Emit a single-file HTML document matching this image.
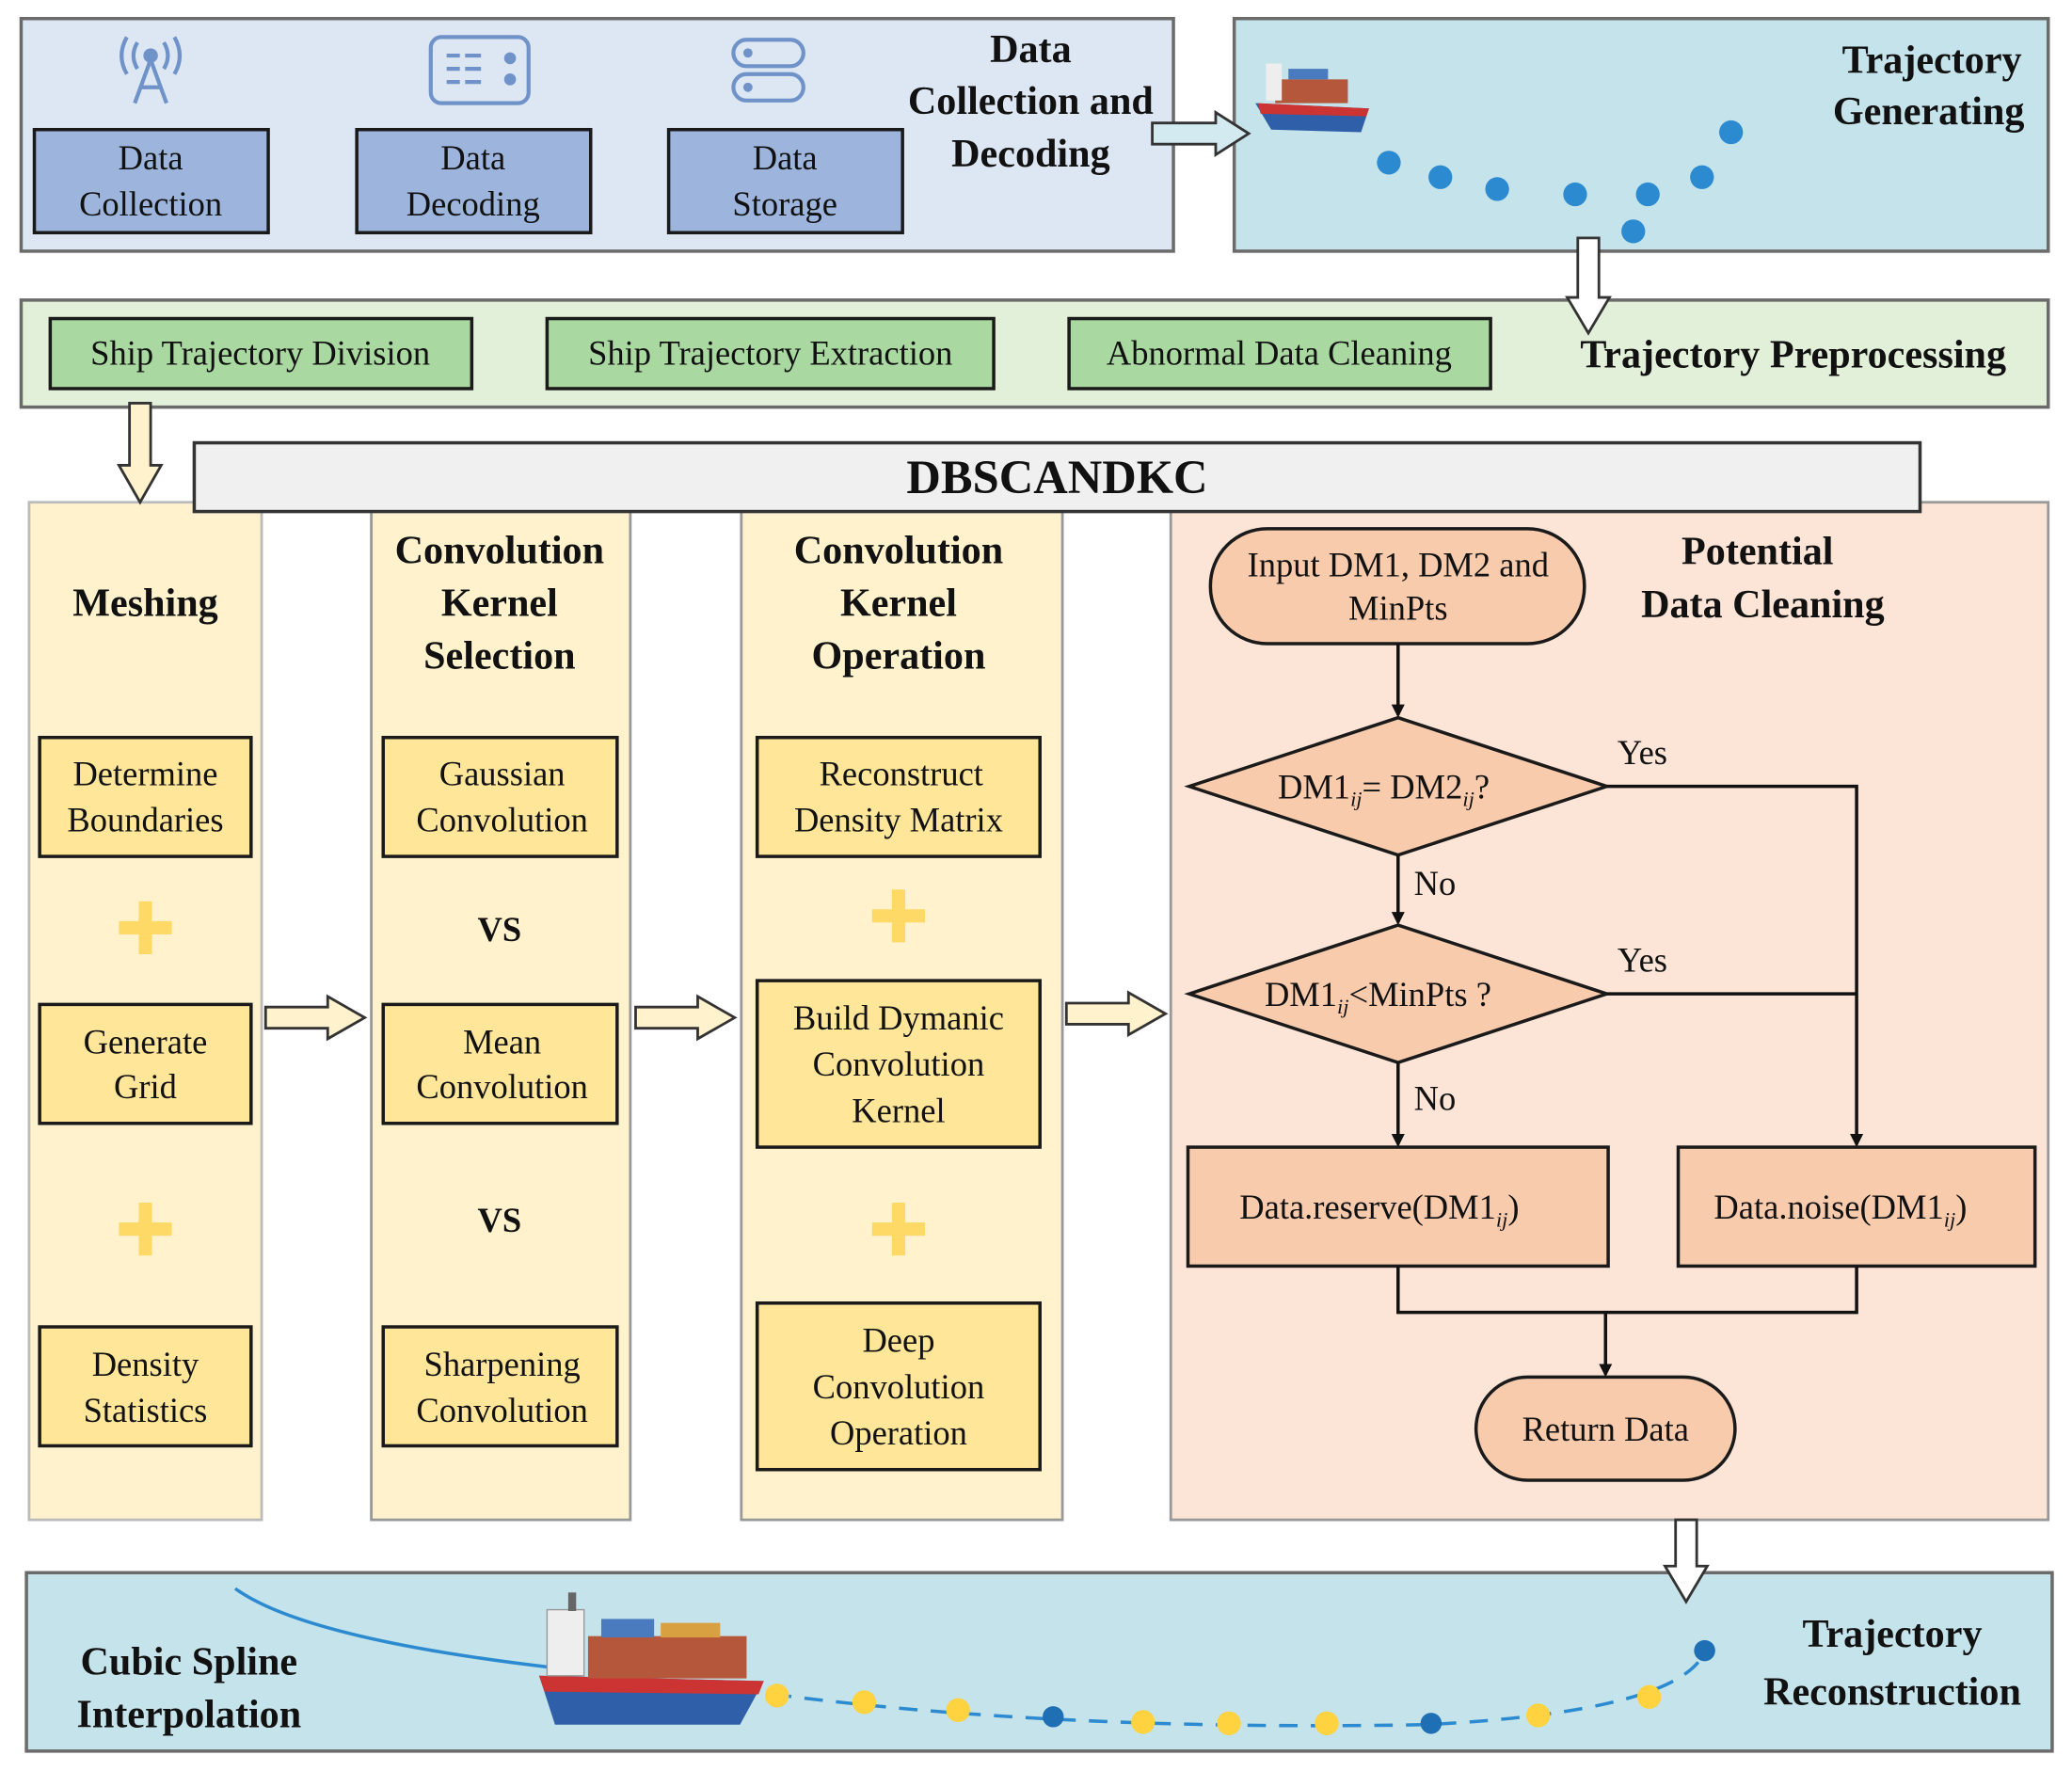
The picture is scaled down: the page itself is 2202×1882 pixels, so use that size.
<!DOCTYPE html>
<html><head><meta charset="utf-8"><style>html,body{margin:0;padding:0;background:#fff}svg{display:block}svg text{font-family:"Liberation Serif","DejaVu Serif",serif}</style></head>
<body>
<svg width="2202" height="1882" viewBox="0 0 1568 1340" xmlns="http://www.w3.org/2000/svg" style="font-family:'Liberation Serif','DejaVu Serif',serif">
<defs>
<marker id="ah" markerWidth="10" markerHeight="10" refX="8" refY="5" orient="auto" markerUnits="userSpaceOnUse"><path d="M0,0 L10,5 L0,10 z" fill="#111"/></marker>
</defs>
<rect width="1568" height="1340" fill="#fff"/>
<rect x="16" y="14" width="872" height="176" fill="#dde7f3" stroke="#6b6b6b" stroke-width="2.5"/>
<g fill="#9db5dc" stroke="#1a1a1a" stroke-width="2.5">
<rect x="26" y="98" width="177" height="78"/><rect x="270" y="98" width="177" height="78"/><rect x="506" y="98" width="177" height="78"/></g>
<g font-size="26" text-anchor="middle" fill="#111">
<text x="114" y="128">Data</text><text x="114" y="163">Collection</text>
<text x="358" y="128">Data</text><text x="358" y="163">Decoding</text>
<text x="594" y="128">Data</text><text x="594" y="163">Storage</text></g>
<g font-size="30" font-weight="bold" text-anchor="middle" fill="#111">
<text x="780" y="47">Data</text><text x="780" y="86">Collection and</text><text x="780" y="126">Decoding</text></g>
<g stroke="#6f93c8" stroke-width="3" fill="none">
<path d="M114,45 L102,78 M114,45 L126,78 M106,66 L122,66"/><circle cx="114" cy="42" r="4" fill="#6f93c8"/>
<path d="M104,32 Q98,42 104,52 M124,32 Q130,42 124,52 M96,28 Q88,42 96,56 M132,28 Q140,42 132,56"/>
<rect x="326" y="28" width="74" height="50" rx="8"/>
<path d="M338,42h10 M352,42h12 M338,52h10 M352,52h12 M338,62h10 M352,62h12"/>
<circle cx="386" cy="44" r="3" fill="#6f93c8"/><circle cx="386" cy="60" r="3" fill="#6f93c8"/>
<rect x="555" y="30" width="53" height="20" rx="10"/><rect x="555" y="56" width="53" height="20" rx="10"/>
<circle cx="566" cy="40" r="2" fill="#6f93c8"/><circle cx="566" cy="66" r="2" fill="#6f93c8"/>
</g>
<rect x="934" y="14" width="616" height="176" fill="#c5e3ea" stroke="#6b6b6b" stroke-width="2.5"/>
<path d="M872,93 L920,93 L920,85 L945,101 L920,117 L920,109 L872,109 z" fill="#d3eaf0" stroke="#333" stroke-width="2"/>
<g font-size="30" font-weight="bold" text-anchor="end" fill="#111"><text x="1530" y="55">Trajectory</text><text x="1532" y="94">Generating</text></g>
<g fill="#2b8ad0"><circle cx="1051" cy="123" r="9"/><circle cx="1090" cy="134" r="9"/><circle cx="1133" cy="143" r="9"/><circle cx="1192" cy="147" r="9"/><circle cx="1236" cy="175" r="9"/><circle cx="1247" cy="147" r="9"/><circle cx="1288" cy="134" r="9"/><circle cx="1310" cy="100" r="9"/></g>
<g><path d="M950,78 L1036,82 L1030,100 L962,98 z" fill="#2e5fa8"/><path d="M952,78 L1036,82 L1034,88 L954,86z" fill="#c33"/>
<rect x="965" y="60" width="55" height="18" fill="#b5573a"/><rect x="975" y="52" width="30" height="8" fill="#4a7bbf"/><rect x="958" y="48" width="12" height="28" fill="#eee"/></g>
<rect x="16" y="227" width="1534" height="81" fill="#e2f0d9" stroke="#6b6b6b" stroke-width="2.5"/>
<path d="M1194,180 L1210,180 L1210,225 L1218,225 L1202,252 L1186,225 L1194,225 z" fill="#fff" stroke="#333" stroke-width="2"/>
<g fill="#a9d8a0" stroke="#1a1a1a" stroke-width="2.5"><rect x="38" y="241" width="319" height="53"/><rect x="414" y="241" width="338" height="53"/><rect x="809" y="241" width="319" height="53"/></g>
<g font-size="26" text-anchor="middle" fill="#111"><text x="197" y="276">Ship Trajectory Division</text><text x="583" y="276">Ship Trajectory Extraction</text><text x="968" y="276">Abnormal Data Cleaning</text></g>
<text x="1357" y="278" font-size="30" font-weight="bold" text-anchor="middle" fill="#111">Trajectory Preprocessing</text>
<rect x="22" y="380" width="176" height="770" fill="#fff2cc" stroke="#bbb" stroke-width="2"/>
<rect x="281" y="387" width="196" height="763" fill="#fff2cc" stroke="#999" stroke-width="2"/>
<rect x="561" y="387" width="243" height="763" fill="#fff2cc" stroke="#999" stroke-width="2"/>
<rect x="886" y="380" width="664" height="770" fill="#fce4d6" stroke="#999" stroke-width="2"/>
<path d="M98,305 L114,305 L114,352 L122,352 L106,380 L90,352 L98,352 z" fill="#fff2cc" stroke="#333" stroke-width="2"/>
<rect x="147" y="335" width="1306" height="52" fill="#f0f0f0" stroke="#333" stroke-width="2.5"/>
<text x="800" y="373" font-size="36" font-weight="bold" text-anchor="middle" fill="#111">DBSCANDKC</text>
<g font-size="30" font-weight="bold" text-anchor="middle" fill="#111">
<text x="110" y="466">Meshing</text>
<text x="378" y="426">Convolution</text><text x="378" y="466">Kernel</text><text x="378" y="506">Selection</text>
<text x="680" y="426">Convolution</text><text x="680" y="466">Kernel</text><text x="680" y="506">Operation</text>
<text x="1330" y="427">Potential</text><text x="1334" y="467">Data Cleaning</text>
<text x="378" y="712" font-size="26">VS</text><text x="378" y="932" font-size="26">VS</text>
</g>
<g fill="#ffe699" stroke="#1a1a1a" stroke-width="2.5">
<rect x="30" y="558" width="160" height="90"/><rect x="30" y="760" width="160" height="90"/><rect x="30" y="1004" width="160" height="90"/>
<rect x="290" y="558" width="177" height="90"/><rect x="290" y="760" width="177" height="90"/><rect x="290" y="1004" width="177" height="90"/>
<rect x="573" y="558" width="214" height="90"/><rect x="573" y="742" width="214" height="126"/><rect x="573" y="986" width="214" height="126"/></g>
<g font-size="26" text-anchor="middle" fill="#111">
<text x="110" y="594">Determine</text><text x="110" y="629">Boundaries</text>
<text x="110" y="797">Generate</text><text x="110" y="831">Grid</text>
<text x="110" y="1041">Density</text><text x="110" y="1076">Statistics</text>
<text x="380" y="594">Gaussian</text><text x="380" y="629">Convolution</text>
<text x="380" y="797">Mean</text><text x="380" y="831">Convolution</text>
<text x="380" y="1041">Sharpening</text><text x="380" y="1076">Convolution</text>
<text x="682" y="594">Reconstruct</text><text x="680" y="629">Density Matrix</text>
<text x="680" y="779">Build Dymanic</text><text x="680" y="814">Convolution</text><text x="680" y="849">Kernel</text>
<text x="680" y="1023">Deep</text><text x="680" y="1058">Convolution</text><text x="680" y="1093">Operation</text>
</g>
<g fill="#ffd966">
<rect x="90" y="697" width="40" height="10"/><rect x="105" y="682" width="10" height="40"/>
<rect x="90" y="925" width="40" height="10"/><rect x="105" y="910" width="10" height="40"/>
<rect x="660" y="688" width="40" height="10"/><rect x="675" y="673" width="10" height="40"/>
<rect x="660" y="925" width="40" height="10"/><rect x="675" y="910" width="10" height="40"/></g>
<g fill="#fff2cc" stroke="#333" stroke-width="2">
<path d="M201,762 L248,762 L248,754 L276,770 L248,786 L248,778 L201,778 z"/>
<path d="M481,762 L528,762 L528,754 L556,770 L528,786 L528,778 L481,778 z"/>
<path d="M807,759 L854,759 L854,751 L882,767 L854,783 L854,775 L807,775 z"/></g>
<g stroke="#1a1a1a" stroke-width="2.5" fill="#f8cbad">
<rect x="916" y="400" width="283" height="87" rx="43"/>
<path d="M900,595 L1058,543 L1216,595 L1058,647 z"/>
<path d="M900,752 L1058,700 L1216,752 L1058,804 z"/>
<rect x="899" y="868" width="318" height="90"/><rect x="1270" y="868" width="270" height="90"/>
<rect x="1117" y="1042" width="196" height="78" rx="39"/></g>
<g stroke="#111" stroke-width="2.5" fill="none" marker-end="url(#ah)">
<path d="M1058,487 L1058,541"/><path d="M1058,647 L1058,698"/><path d="M1058,804 L1058,866"/>
<path d="M1216,595 L1405,595 L1405,866"/><path d="M1215,993 L1215,1040"/></g>
<g stroke="#111" stroke-width="2.5" fill="none"><path d="M1216,752 L1405,752"/><path d="M1058,958 L1058,993 L1405,993 L1405,958"/></g>
<g font-size="26" fill="#111">
<text x="1058" y="436" text-anchor="middle">Input DM1, DM2 and</text><text x="1058" y="469" text-anchor="middle">MinPts</text>
<text x="967" y="604">DM1<tspan font-size="16" font-style="italic" dy="6">ij</tspan><tspan dy="-6">= DM2</tspan><tspan font-size="16" font-style="italic" dy="6">ij</tspan><tspan dy="-6">?</tspan></text>
<text x="957" y="761">DM1<tspan font-size="16" font-style="italic" dy="6">ij</tspan><tspan dy="-6">&lt;MinPts ?</tspan></text>
<text x="938" y="922">Data.reserve(DM1<tspan font-size="16" font-style="italic" dy="6">ij</tspan><tspan dy="-6">)</tspan></text>
<text x="1297" y="922">Data.noise(DM1<tspan font-size="16" font-style="italic" dy="6">ij</tspan><tspan dy="-6">)</tspan></text>
<text x="1215" y="1090" text-anchor="middle">Return Data</text>
<text x="1224" y="578">Yes</text><text x="1224" y="735">Yes</text><text x="1070" y="677">No</text><text x="1070" y="840">No</text></g>
<rect x="20" y="1190" width="1533" height="135" fill="#c5e3ea" stroke="#6b6b6b" stroke-width="2.5"/>
<path d="M1268,1150 L1284,1150 L1284,1185 L1292,1185 L1276,1212 L1260,1185 L1268,1185 z" fill="#fff" stroke="#333" stroke-width="2"/>
<g font-size="30" font-weight="bold" fill="#111" text-anchor="middle">
<text x="143" y="1267">Cubic Spline</text><text x="143" y="1307">Interpolation</text>
<text x="1432" y="1246">Trajectory</text><text x="1432" y="1290">Reconstruction</text></g>
<path d="M178,1202 Q230,1240 420,1262" stroke="#2b8ad0" stroke-width="2.5" fill="none"/>
<path d="M585,1282 Q800,1310 1080,1305 Q1270,1295 1290,1250" stroke="#2b8ad0" stroke-width="2.5" stroke-dasharray="14,10" fill="none"/>
<g fill="#ffd23f"><circle cx="588" cy="1283" r="9"/><circle cx="654" cy="1288" r="9"/><circle cx="725" cy="1294" r="9"/><circle cx="865" cy="1303" r="9"/><circle cx="930" cy="1304" r="9"/><circle cx="1004" cy="1304" r="9"/><circle cx="1164" cy="1298" r="9"/><circle cx="1248" cy="1284" r="9"/></g>
<g fill="#1f6fb5"><circle cx="797" cy="1299" r="8"/><circle cx="1083" cy="1304" r="8"/><circle cx="1290" cy="1249" r="8"/></g>
<g>
<path d="M408,1268 L578,1272 L560,1305 L420,1305 z" fill="#2e5fa8"/>
<path d="M408,1268 L578,1272 L574,1282 L412,1280 z" fill="#c33"/>
<rect x="445" y="1238" width="120" height="32" fill="#b5573a"/>
<rect x="455" y="1225" width="40" height="14" fill="#4a7bbf"/><rect x="500" y="1228" width="45" height="11" fill="#d8a040"/>
<rect x="414" y="1218" width="28" height="50" fill="#eee" stroke="#999"/>
<rect x="430" y="1205" width="6" height="14" fill="#666"/>
</g>
</svg>
</body></html>
